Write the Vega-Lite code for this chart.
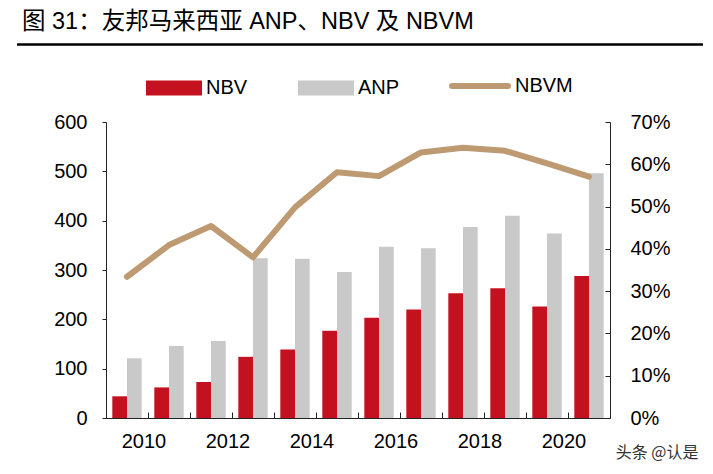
{
  "$schema": "https://vega.github.io/schema/vega-lite/v6.json",
  "width": 504,
  "height": 296,
  "autosize": "none",
  "padding": {"left": 106, "top": 122, "right": 103, "bottom": 56},
  "background": "white",
  "title": {
    "text": "图 31：友邦马来西亚 ANP、NBV 及 NBVM",
    "anchor": "start",
    "frame": "group",
    "dx": -84,
    "offset": 10,
    "font": "Liberation Sans, Noto Sans CJK SC",
    "fontSize": 23.5,
    "fontWeight": "normal",
    "color": "#000000"
  },
  "datasets": {
    "main": [
      {"year": "2010", "series": "NBV", "value": 44},
      {"year": "2011", "series": "NBV", "value": 62},
      {"year": "2012", "series": "NBV", "value": 73},
      {"year": "2013", "series": "NBV", "value": 124},
      {"year": "2014", "series": "NBV", "value": 139},
      {"year": "2015", "series": "NBV", "value": 177},
      {"year": "2016", "series": "NBV", "value": 203},
      {"year": "2017", "series": "NBV", "value": 220},
      {"year": "2018", "series": "NBV", "value": 253},
      {"year": "2019", "series": "NBV", "value": 263},
      {"year": "2020", "series": "NBV", "value": 226},
      {"year": "2021", "series": "NBV", "value": 288},
      {"year": "2010", "series": "ANP", "value": 121},
      {"year": "2011", "series": "ANP", "value": 146},
      {"year": "2012", "series": "ANP", "value": 156},
      {"year": "2013", "series": "ANP", "value": 324},
      {"year": "2014", "series": "ANP", "value": 323},
      {"year": "2015", "series": "ANP", "value": 296},
      {"year": "2016", "series": "ANP", "value": 347},
      {"year": "2017", "series": "ANP", "value": 344},
      {"year": "2018", "series": "ANP", "value": 387},
      {"year": "2019", "series": "ANP", "value": 410},
      {"year": "2020", "series": "ANP", "value": 374},
      {"year": "2021", "series": "ANP", "value": 496}
    ],
    "margin": [
      {"year": "2010", "series": "NBVM", "value": 0.334},
      {"year": "2011", "series": "NBVM", "value": 0.409},
      {"year": "2012", "series": "NBVM", "value": 0.454},
      {"year": "2013", "series": "NBVM", "value": 0.380},
      {"year": "2014", "series": "NBVM", "value": 0.498},
      {"year": "2015", "series": "NBVM", "value": 0.581},
      {"year": "2016", "series": "NBVM", "value": 0.572},
      {"year": "2017", "series": "NBVM", "value": 0.628},
      {"year": "2018", "series": "NBVM", "value": 0.639},
      {"year": "2019", "series": "NBVM", "value": 0.632},
      {"year": "2020", "series": "NBVM", "value": 0.602},
      {"year": "2021", "series": "NBVM", "value": 0.571}
    ],
    "deco": [{"k": 1}]
  },
  "layer": [
    {
      "data": {"name": "main"},
      "mark": {"type": "bar"},
      "encoding": {
        "x": {
          "field": "year",
          "type": "ordinal",
          "scale": {"paddingInner": 0, "paddingOuter": 0},
          "axis": {
            "title": "头条 @认是",
            "titleFont": "Noto Sans CJK SC",
            "titleFontSize": 16,
            "titleFontWeight": "normal",
            "titleColor": "#333333",
            "titleAnchor": "end",
            "titleAlign": "right",
            "titleBaseline": "middle",
            "titleX": 592,
            "titleY": 34,
            "bandPosition": 0,
            "labelOffset": 17,
            "labelAngle": 0,
            "labelAlign": "center",
            "labelOverlap": false,
            "labelExpr": "toNumber(datum.value) % 2 == 0 ? datum.label : ''",
            "tickSize": -6,
            "labelPadding": 19
          }
        },
        "xOffset": {
          "field": "series",
          "sort": ["NBV", "ANP"],
          "scale": {"paddingInner": 0, "paddingOuter": 0.43}
        },
        "y": {
          "field": "value",
          "type": "quantitative",
          "scale": {"domain": [0, 600]},
          "axis": {"title": null, "values": [0, 100, 200, 300, 400, 500, 600], "labelOverlap": false, "tickSize": 4, "labelPadding": 15}
        },
        "fill": {
          "field": "series",
          "type": "nominal",
          "scale": {"domain": ["NBV", "ANP"], "range": ["#C4111F", "#C9C9C9"]},
          "legend": {
            "title": null,
            "orient": "none",
            "legendX": 40,
            "legendY": -62,
            "direction": "horizontal",
            "symbolType": "M-1,-0.27L1,-0.27L1,0.27L-1,0.27Z",
            "symbolSize": 3136,
            "symbolStrokeWidth": 0,
            "labelOffset": 4,
            "columnPadding": 50
          }
        }
      }
    },
    {
      "data": {"name": "margin"},
      "mark": {"type": "line", "strokeWidth": 6, "strokeCap": "round", "strokeJoin": "round"},
      "encoding": {
        "x": {"field": "year", "type": "ordinal"},
        "y": {
          "field": "value",
          "type": "quantitative",
          "scale": {"domain": [0, 0.7]},
          "axis": {"title": null, "orient": "right", "format": ".0%", "values": [0, 0.1, 0.2, 0.3, 0.4, 0.5, 0.6, 0.7], "labelOverlap": false, "tickSize": -5, "labelPadding": 25}
        },
        "stroke": {
          "field": "series",
          "type": "nominal",
          "scale": {"domain": ["NBVM"], "range": ["#BE9A72"]},
          "legend": {
            "title": null,
            "orient": "none",
            "legendX": 343,
            "legendY": -67,
            "symbolType": "stroke",
            "symbolSize": 3136,
            "symbolStrokeWidth": 6,
            "labelOffset": 4,
            "encode": {"symbols": {"update": {"strokeCap": {"value": "round"}}}}
          }
        }
      }
    },
    {
      "data": {"name": "deco"},
      "mark": {"type": "rule", "color": "#000000", "strokeWidth": 2.5},
      "encoding": {
        "x": {"value": -89},
        "x2": {"value": 597},
        "y": {"value": -77.5}
      }
    }
  ],
  "resolve": {"scale": {"y": "independent"}},
  "config": {
    "view": {"stroke": null},
    "axis": {
      "labelFont": "Liberation Sans",
      "labelFontSize": 20,
      "labelColor": "#000000",
      "domainColor": "#222222",
      "tickColor": "#222222",
      "grid": false
    },
    "legend": {
      "labelFont": "Liberation Sans",
      "labelFontSize": 20,
      "labelColor": "#000000"
    }
  }
}
